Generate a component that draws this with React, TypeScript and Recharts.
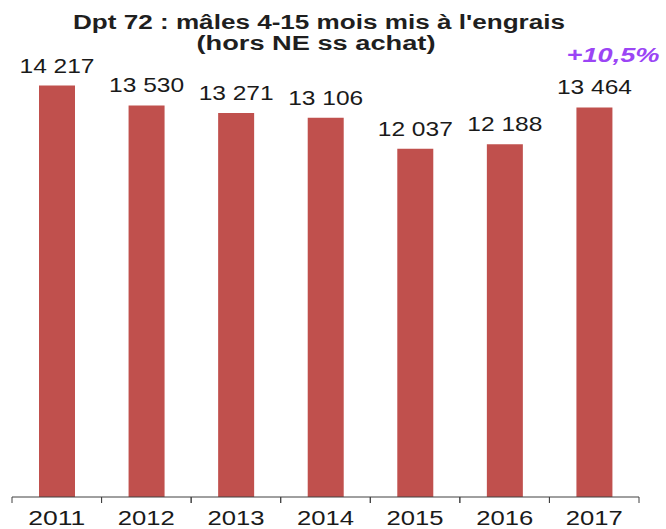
import React from 'react';
import { BarChart, Bar, XAxis, YAxis, LabelList } from 'recharts';

// Dpt 72 - males 4-15 months fattened
const years = ['2011', '2012', '2013', '2014', '2015', '2016', '2017'];
const heads = [14217, 13530, 13271, 13106, 12037, 12188, 13464];
const titleLines = ["Dpt 72 : mâles 4-15 mois mis à l'engrais", '(hors NE ss achat)'];
const growthNote = '+10,5%';

const data = years.map((year, i) => ({ year, value: heads[i] }));

const FONT = '"Liberation Sans", Arial, sans-serif';
const PLOT_LEFT = 12;
const PLOT_RIGHT = 639;
const HALF_BAND = (PLOT_RIGHT - PLOT_LEFT) / years.length / 2;

const fmt = (v: number) => String(v).replace(/\B(?=(\d{3})+(?!\d))/g, ' ');

const ValueLabel = (props: any) => {
  const { x, y, width, value } = props;
  return (
    <text
      x={x + width / 2}
      y={y - 13}
      textAnchor="middle"
      fontSize={21}
      fontFamily={FONT}
      fill="#1a1a1a"
      textLength={75}
      lengthAdjust="spacingAndGlyphs"
    >
      {fmt(value)}
    </text>
  );
};

const YearTick = (props: any) => {
  const { x, y, payload } = props;
  const axisY = y - 6;
  return (
    <g>
      <line x1={x - HALF_BAND} x2={x - HALF_BAND} y1={axisY} y2={axisY + 6} stroke="#404040" />
      <line x1={x + HALF_BAND} x2={x + HALF_BAND} y1={axisY} y2={axisY + 6} stroke="#404040" />
      <text
        x={x}
        y={axisY + 28}
        textAnchor="middle"
        fontSize={20}
        fontFamily={FONT}
        fill="#1a1a1a"
        textLength={57}
        lengthAdjust="spacingAndGlyphs"
      >
        {payload.value}
      </text>
    </g>
  );
};

export default function App() {
  return (
    <div style={{ position: 'absolute', left: 0, top: 0, width: 666, height: 529, background: '#fff' }}>
      <BarChart
        width={666}
        height={529}
        data={data}
        margin={{ top: 34, right: 666 - PLOT_RIGHT, left: PLOT_LEFT, bottom: 0 }}
      >
        <XAxis
          dataKey="year"
          height={32}
          tickSize={6}
          tickMargin={0}
          tickLine={false}
          axisLine={{ stroke: '#404040' }}
          tick={<YearTick />}
          interval={0}
        />
        <YAxis hide domain={[0, 16000]} />
        <Bar dataKey="value" fill="#c0504d" barSize={36} isAnimationActive={false}>
          <LabelList dataKey="value" content={<ValueLabel />} />
        </Bar>
        <text
          x={319}
          y={29}
          textAnchor="middle"
          fontSize={20}
          fontWeight="bold"
          fontFamily={FONT}
          fill="#1f1f1f"
          textLength={492}
          lengthAdjust="spacingAndGlyphs"
        >
          {titleLines[0]}
        </text>
        <text
          x={316}
          y={50}
          textAnchor="middle"
          fontSize={20}
          fontWeight="bold"
          fontFamily={FONT}
          fill="#1f1f1f"
          textLength={239}
          lengthAdjust="spacingAndGlyphs"
        >
          {titleLines[1]}
        </text>
        <text
          x={613}
          y={62}
          textAnchor="middle"
          fontSize={21}
          fontWeight="bold"
          fontStyle="italic"
          fontFamily={FONT}
          fill="#9b45f5"
          textLength={93}
          lengthAdjust="spacingAndGlyphs"
        >
          {growthNote}
        </text>
      </BarChart>
    </div>
  );
}
